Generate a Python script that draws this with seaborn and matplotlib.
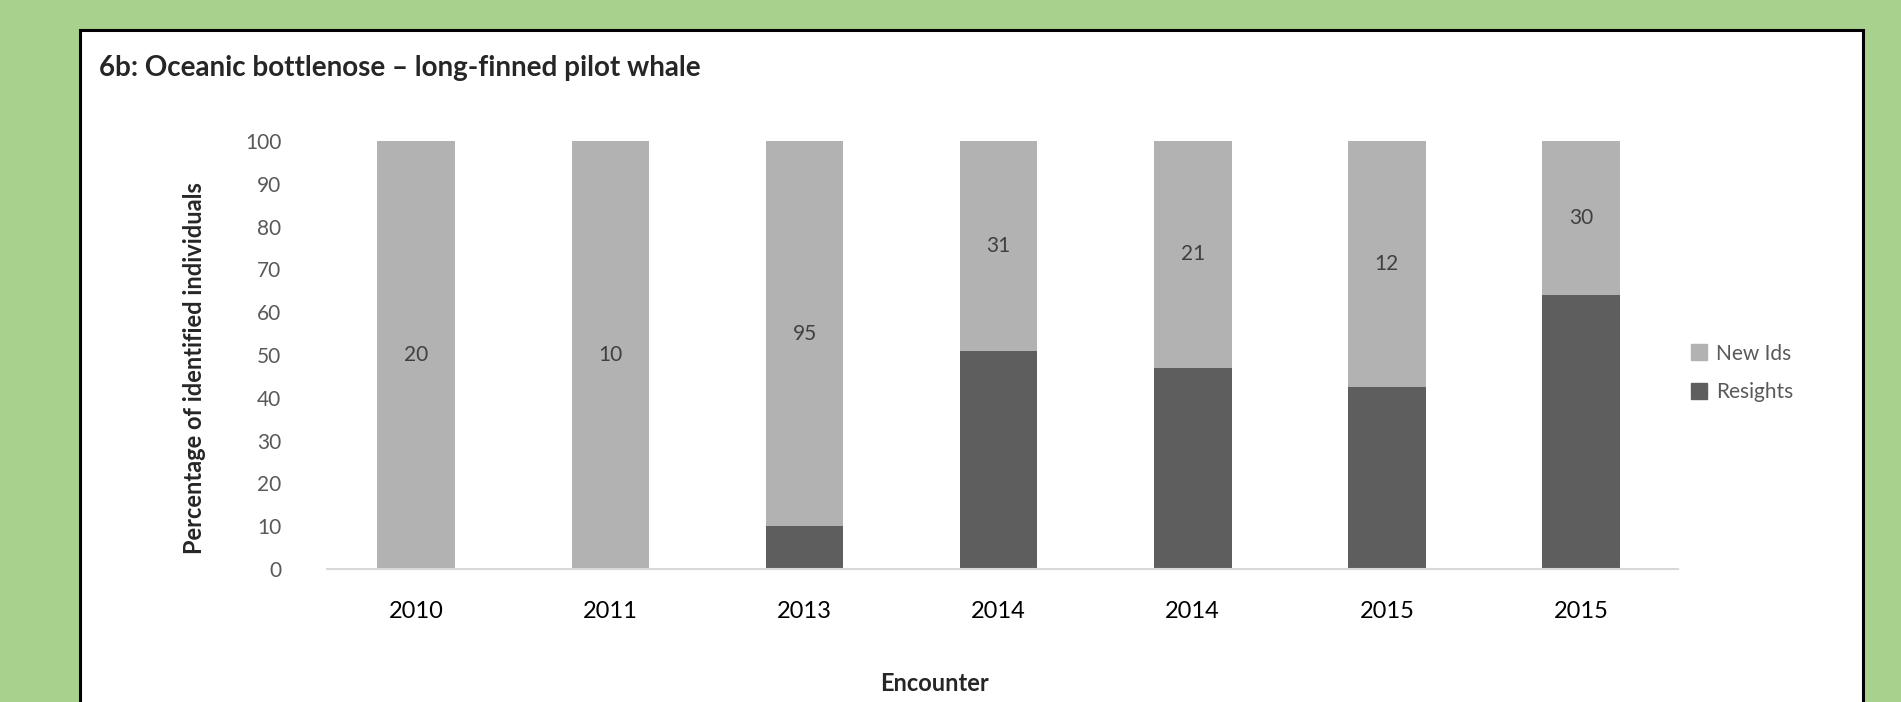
import matplotlib.pyplot as plt
import matplotlib.patches as mpatches
import numpy as np
import pandas as pd
import seaborn as sns

years = ["2010", "2011", "2013", "2014", "2014", "2015", "2015"]
resights = [0, 0, 10, 51, 47, 42.5, 64]
new_ids = [100, 100, 90, 49, 53, 57.5, 36]
totals = [20, 10, 95, 31, 21, 12, 30]

light = "#b2b2b2"
dark = "#5e5e5e"

sns.set_style("white")
plt.rcParams["font.family"] = ["Lato", "DejaVu Sans"]

df = pd.DataFrame({
    "enc": [f"e{i}" for i in range(len(years))],
    "year": years,
    "resights": resights,
    "new_ids": new_ids,
})
df["stack"] = df["resights"] + df["new_ids"]

fig = plt.figure(figsize=(19.01, 7.02), dpi=100)
fig.patch.set_facecolor("#a9d18e")
# white panel with black frame
fig.patches.append(mpatches.Rectangle((80 / 1901, -0.05), (1783 / 1901), (702 - 30) / 702 + 0.05,
                                      transform=fig.transFigure, facecolor="white",
                                      edgecolor="black", linewidth=2.2, zorder=-5))

ax = fig.add_axes([327 / 1901, (702 - 569) / 702, (1678 - 327) / 1901, (569 - 141) / 702])
ax.set_zorder(2)
ax.set_facecolor("none")

sns.barplot(data=df, x="enc", y="stack", color=light, width=0.4, ax=ax, saturation=1, linewidth=0)
sns.barplot(data=df, x="enc", y="resights", color=dark, width=0.4, ax=ax, saturation=1, linewidth=0)

for i, row in df.iterrows():
    ax.text(i, row["resights"] + row["new_ids"] / 2, str(totals[i]), ha="center", va="center",
            fontsize=15, color="#404040")

ax.set_xlim(-0.46, 6.5)
ax.set_ylim(0, 100)
ax.set_yticks(np.arange(0, 101, 10))
ax.set_xticks(range(len(years)))
ax.set_xticklabels(years, fontsize=17, color="black")
ax.tick_params(axis="y", labelsize=15, labelcolor="#595959", length=0, pad=33)
ax.tick_params(axis="x", length=0, pad=23)
for s in ["top", "left", "right"]:
    ax.spines[s].set_visible(False)
ax.spines["bottom"].set_color("#d9d9d9")
ax.spines["bottom"].set_linewidth(1.5)

ax.set_xlabel("Encounter", fontsize=17, fontweight="bold", labelpad=36)
ax.xaxis.label.set_x(0.45)
ax.set_ylabel("Percentage of identified individuals", fontsize=17, fontweight="bold", labelpad=28)
ax.yaxis.label.set_y(0.47)

fig.text(99 / 1901, 1 - 68 / 702, "6b: Oceanic bottlenose \u2013 long-finned pilot whale",
         fontsize=20, fontweight="bold", va="center")

handles = [mpatches.Patch(color=light, label="New Ids"), mpatches.Patch(color=dark, label="Resights")]
fig.legend(handles=handles, loc="center left", bbox_to_anchor=(1672 / 1901, 1 - 373 / 702),
           frameon=False, fontsize=15, labelcolor="#595959", handlelength=0.8, handleheight=0.8,
           handletextpad=0.4, labelspacing=0.9)

fig.savefig("out.png", dpi=100, facecolor=fig.get_facecolor())
